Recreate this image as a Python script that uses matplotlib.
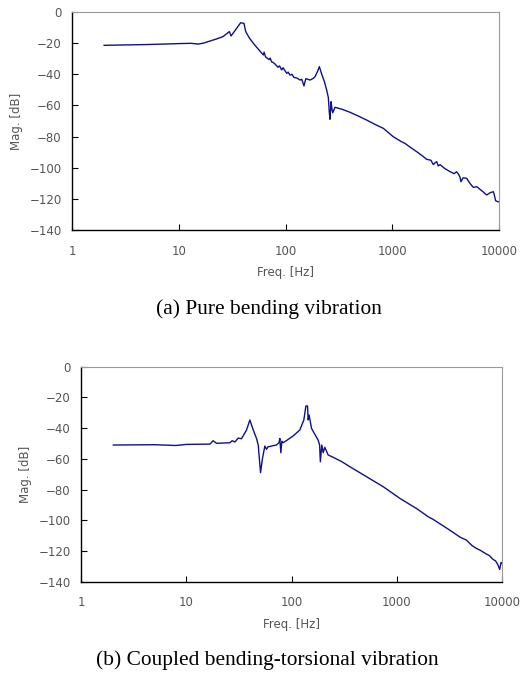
import matplotlib
matplotlib.use("Agg")
import matplotlib.pyplot as plt
from matplotlib.ticker import FixedLocator, FixedFormatter, NullLocator

# (a) Pure bending vibration
freq_a = [2.0, 5.0, 10, 13, 15.2, 17, 22.6, 26, 29.8, 30.9, 34, 38, 40.8, 42.4, 46, 50, 55, 60,
          62, 63, 65, 67, 70, 72, 74, 76.9, 80, 85, 88, 92, 95, 97, 102.6, 106, 110, 115, 120, 128,
          136.7, 142, 149, 155, 170, 182, 189, 200, 207.5, 218, 232, 243, 252, 257, 261, 265, 267,
          272, 277, 291, 340, 402, 480, 576, 700, 824, 1023, 1200, 1318, 1450, 1694, 1900, 2100,
          2300, 2427, 2520, 2608, 2700, 2800, 3100, 3474, 3800, 4000, 4158, 4300, 4404, 4600,
          4977, 5400, 5750, 6200, 6640, 7100, 7660, 8300, 8850, 9000, 9300, 9700, 10000]
mag_a = [-21.4, -20.9, -20.3, -20.1, -20.6, -20.0, -17.3, -15.8, -12.6, -15.4, -11.5, -6.9, -7.3,
         -12.6, -16.8, -20.1, -23.5, -26.5, -27.6, -25.8, -28.8, -29.5, -30.6, -29.6, -32.0,
         -32.5, -33.5, -35.5, -34.6, -37.2, -35.8, -36.8, -39.4, -38.6, -40.5, -40.0, -42.0,
         -42.4, -43.7, -43.2, -47.5, -42.8, -43.7, -42.6, -41.5, -38.0, -35.1, -39.8, -45.0,
         -50.1, -55.0, -64.0, -68.9, -62.0, -57.6, -62.0, -64.7, -61.2, -62.5, -64.4, -66.8,
         -69.4, -72.4, -74.7, -80.1, -83.0, -84.4, -86.5, -89.7, -92.2, -94.6, -95.2, -98.0,
         -96.8, -96.1, -98.9, -98.0, -100.5, -102.5, -103.8, -102.6, -104.0, -105.8, -109.0,
         -106.5, -106.8, -110.5, -112.6, -112.2, -113.9, -115.5, -117.5, -116.0, -115.4, -117.0,
         -121.2, -121.8, -121.8]

# (b) Coupled bending-torsional vibration
freq_b = [2.03, 5.0, 8.0, 10, 16.8, 18.0, 19.4, 26, 27.3, 29, 31.2, 33.5, 37.4, 40.2, 43.3, 46.5,
          48.3, 50.8, 53, 55.8, 57.9, 60, 62.3, 66, 72, 76, 77.5, 79.2, 81, 83.3, 90, 103.7, 120,
          131, 137, 142, 144, 147, 155, 165, 179, 185, 188, 194, 200, 207, 215, 223, 249, 300,
          358, 515, 742, 1068, 1537, 2000, 2213, 3186, 4000, 4585, 5200, 5700, 6200, 7100, 7600,
          8220, 8700, 9165, 9500, 9800, 10000]
mag_b = [-51.0, -50.8, -51.3, -50.6, -50.4, -48.2, -49.9, -49.5, -48.2, -49.0, -46.5, -46.9, -41.2,
         -34.7, -41.2, -46.7, -51.0, -69.0, -59.7, -51.7, -53.8, -52.0, -52.0, -51.5, -51.0,
         -49.5, -46.7, -56.0, -48.5, -49.5, -48.0, -45.1, -41.2, -34.7, -25.6, -25.6, -34.7,
         -31.5, -40.2, -43.5, -47.8, -51.0, -61.9, -51.0, -56.0, -52.5, -55.0, -57.5, -59.0,
         -61.8, -65.1, -71.6, -78.1, -85.7, -92.3, -97.8, -99.4, -106.4, -111.0, -112.9, -116.5,
         -118.3, -119.5, -122.0, -123.0, -125.5, -126.5, -129.2, -132.0, -127.5, -128.0]

x_ticks = [1, 10, 100, 1000, 10000]
x_tick_labels = ["1", "10", "100", "1000", "10000"]
y_ticks = [0, -20, -40, -60, -80, -100, -120, -140]
y_tick_labels = ["0", "\u221220", "\u221240", "\u221260", "\u221280", "\u2212100", "\u2212120", "\u2212140"]

captions = ["(a) Pure bending vibration", "(b) Coupled bending-torsional vibration"]

W, H = 520, 679
fig = plt.figure(figsize=(W / 100, H / 100), dpi=100)

line_color = "#10108a"
text_color = "#555555"
tick_fs = 8.5


def style(ax):
    ax.set_xscale("log")
    ax.set_xlim(1, 10000)
    ax.set_ylim(-140, 0)
    ax.xaxis.set_major_locator(FixedLocator(x_ticks))
    ax.xaxis.set_major_formatter(FixedFormatter(x_tick_labels))
    ax.xaxis.set_minor_locator(NullLocator())
    ax.yaxis.set_major_locator(FixedLocator(y_ticks))
    ax.yaxis.set_major_formatter(FixedFormatter(y_tick_labels))
    ax.tick_params(axis="both", direction="in", length=4.3, width=0.8, colors="black",
                   labelcolor=text_color, labelsize=tick_fs)
    ax.tick_params(axis="x", pad=10.5)
    ax.tick_params(axis="y", pad=7.5)
    ax.spines["left"].set_color("black")
    ax.spines["bottom"].set_color("black")
    ax.spines["left"].set_linewidth(1.0)
    ax.spines["bottom"].set_linewidth(1.0)
    ax.spines["top"].set_color("#999999")
    ax.spines["right"].set_color("#999999")
    ax.spines["top"].set_linewidth(0.8)
    ax.spines["right"].set_linewidth(0.8)
    ax.set_xlabel("Freq. [Hz]", fontsize=tick_fs, color=text_color, labelpad=6)
    ax.set_ylabel("Mag. [dB]", fontsize=tick_fs, color=text_color, labelpad=4.5)


ax1 = fig.add_axes([72 / W, 1 - 230 / H, 427 / W, 218 / H])
ax1.plot(freq_a, mag_a, color=line_color, lw=1.0)
style(ax1)

ax2 = fig.add_axes([81 / W, 1 - 581.7 / H, 421 / W, 215 / H])
ax2.plot(freq_b, mag_b, color=line_color, lw=1.0)
style(ax2)

fig.text(268.5 / W, 1 - 309 / H, captions[0], ha="center", va="center",
         fontsize=15.4, family="Liberation Serif", color="black")
fig.text(267.5 / W, 1 - 660 / H, captions[1], ha="center", va="center",
         fontsize=15.4, family="Liberation Serif", color="black")

fig.savefig("out.png", dpi=100)
